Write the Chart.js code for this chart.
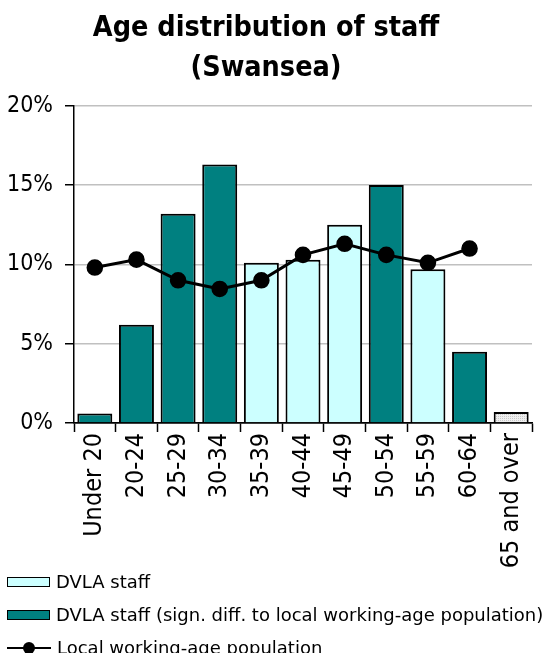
<!DOCTYPE html>
<html>
<head>
<meta charset="utf-8">
<script src="https://cdn.jsdelivr.net/npm/chart.js@4"></script>
<style>
  html, body { margin: 0; padding: 0; background: #fff; }
  .wrap { position: relative; width: 550px; height: 653px; }
  canvas { position: absolute; left: 0; top: 0; }
  .legend { position: absolute; left: 7px; top: 565px; font: 18px "DejaVu Sans", sans-serif; color: #000; }
  .legend .row { height: 33px; display: flex; align-items: center; white-space: nowrap; }
  .legend .box { width: 41px; height: 8px; border: 1.5px solid #000; margin-right: 6px; }
  .legend .ln { position: relative; width: 44px; height: 12px; margin-right: 6px; }
  .legend .ln::before { content: ""; position: absolute; left: 0; right: 0; top: 5px; height: 2.5px; background: #000; }
  .legend .ln::after { content: ""; position: absolute; left: 16px; top: 0; width: 12px; height: 12px; border-radius: 50%; background: #000; }
</style>
</head>
<body>
<div class="wrap">
  <canvas id="chart" width="550" height="653"></canvas>
  <div class="legend">
    <div class="row"><span class="box" style="background:#ccffff"></span>DVLA staff</div>
    <div class="row"><span class="box" style="background:#008080"></span>DVLA staff (sign. diff. to local working-age population)</div>
    <div class="row"><span class="ln"></span>Local working-age population</div>
  </div>
</div>
<script>
// ---- data ----
const AGE_GROUPS = ["Under 20", "20-24", "25-29", "30-34", "35-39", "40-44",
  "45-49", "50-54", "55-59", "60-64", "65 and over"];
const STAFF_PCT = [0.6, 6.2, 13.2, 16.3, 10.1, 10.3, 12.5, 15.0, 9.7, 4.5, 0.7];
// true = significant difference, false = not, null = no comparison
const SIGNIF = [true, true, true, true, false, false, false, true, false, true, null];
const LOCAL_PCT = [9.8, 10.3, 9.0, 8.45, 9.0, 10.6, 11.3, 10.6, 10.1, 11.0, null];
const Y_TICKS = [0, 5, 10, 15, 20];

const LIGHT = "#ccffff", TEAL = "#008080", GRID = "#c0c0c0";
const FONT = '"DejaVu Sans Condensed", "DejaVu Sans", sans-serif';

// grey stipple for the "65 and over" bar
function hatch() {
  const c = document.createElement("canvas");
  c.width = 4; c.height = 4;
  const g = c.getContext("2d");
  g.fillStyle = "#eeeeee"; g.fillRect(0, 0, 4, 4);
  g.fillStyle = "#c8c8c8";
  g.fillRect(0, 0, 1, 1); g.fillRect(2, 2, 1, 1); g.fillRect(2, 0, 1, 1); g.fillRect(0, 2, 1, 1);
  return g.createPattern(c, "repeat");
}
const HATCH = hatch();

new Chart(document.getElementById("chart"), {
  data: {
    labels: AGE_GROUPS,
    datasets: [
      {
        type: "line", label: "Local working-age population", data: LOCAL_PCT,
        borderColor: "#000", backgroundColor: "#000", borderWidth: 3,
        pointRadius: 6.8, pointHoverRadius: 6.8, tension: 0, order: 0
      },
      {
        type: "bar", label: "DVLA staff", data: STAFF_PCT,
        backgroundColor: SIGNIF.map(s => s === null ? HATCH : (s ? TEAL : LIGHT)),
        borderColor: "#000", borderWidth: 2,
        barPercentage: 0.84, categoryPercentage: 1.0, order: 1
      }
    ]
  },
  options: {
    responsive: false, animation: false,
    layout: { padding: { left: 0, right: 18, top: 0, bottom: 0 } },
    plugins: {
      legend: { display: false },
      tooltip: { enabled: false },
      title: {
        display: true, text: ["Age distribution of staff", "(Swansea)"], color: "#000",
        font: { family: FONT, size: 28.5, weight: "bold", lineHeight: 1.4 },
        padding: { top: 9, bottom: 17 }
      }
    },
    scales: {
      x: {
        offset: true,
        grid: { offset: true, drawOnChartArea: false, drawTicks: true, tickLength: 9, tickColor: "#000", tickWidth: 1.5 },
        border: { color: "#000", width: 1.5 },
        ticks: { color: "#000", font: { family: FONT, size: 25 }, maxRotation: 90, minRotation: 90, padding: 1 },
        afterFit: s => { s.height = 230; }
      },
      y: {
        min: 0, max: 20,
        afterBuildTicks: s => { s.ticks = Y_TICKS.map(v => ({ value: v })); },
        grid: {
          color: c => c.tick && c.tick.value === 0 ? "#000" : GRID, lineWidth: 1.5,
          drawTicks: true, tickLength: 9, tickColor: "#000", tickWidth: 1.5
        },
        border: { color: "#000", width: 1.5 },
        ticks: { color: "#000", font: { family: FONT, size: 23 }, padding: 12, callback: v => v + "%" },
        afterFit: s => { s.width = 74; }
      }
    }
  }
});
</script>
</body>
</html>
